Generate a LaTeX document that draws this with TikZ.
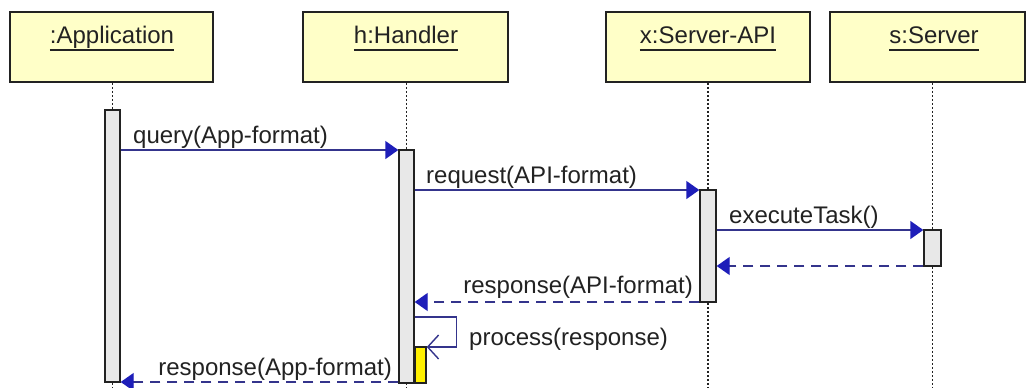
\documentclass[tikz,border=0pt]{standalone}
\usepackage{fontspec}
\setmainfont{Liberation Sans}
\usetikzlibrary{arrows.meta}
\pgfdeclarelayer{background}
\pgfsetlayers{background,main}

\definecolor{headfill}{RGB}{255,255,200}
\definecolor{barfill}{RGB}{232,232,232}
\definecolor{msgline}{RGB}{52,52,140}
\definecolor{tipblue}{RGB}{30,30,185}
\definecolor{inkgray}{RGB}{34,34,34}
\definecolor{workyellow}{RGB}{255,240,0}

% object name with a fixed-position underline
\newcommand{\uname}[1]{\setbox0\hbox{#1}\rlap{\raisebox{-8pt}{\rule{\wd0}{1.8pt}}}\box0}

\begin{document}
\begin{tikzpicture}[x=1pt,y=-1pt,
  every node/.style={font=\fontsize{24}{28}\selectfont, text=inkgray},
  head/.style={draw=inkgray, line width=1.6pt, fill=headfill, minimum height=70pt, inner sep=0pt},
  title/.style={anchor=base, inner sep=0pt},
  lifeline/.style={draw=inkgray, line width=1.3pt, dash pattern=on 2pt off 2pt},
  actbar/.style={draw=inkgray, line width=1.4pt, fill=barfill, inner sep=0pt, minimum width=15pt},
  call/.style={draw=msgline, line width=1.4pt, -{Triangle[length=13pt,width=18pt,color=tipblue]}},
  reply/.style={call, dash pattern=on 10pt off 7pt},
  selfcall/.style={draw=msgline, line width=1.4pt, -{Straight Barb[length=11pt,width=24pt]}},
  msg/.style={inner sep=0pt}
]
\useasboundingbox (0,0) rectangle (1026,388);
\begin{pgfonlayer}{background}
  \fill[white] (0,0) rectangle (1026,388);
\end{pgfonlayer}

% object heads
\node[head, minimum width=203pt] (app) at (111.5,47) {};
\node[head, minimum width=205pt] (hdl) at (405.5,47) {};
\node[head, minimum width=204pt] (api) at (708,47) {};
\node[head, minimum width=195pt] (srv) at (927.5,47) {};
\node[title] (appt) at (112,43) {\uname{:Application}};
\node[title] (hdlt) at (406,43) {\uname{h:Handler}};
\node[title] (apit) at (708,43) {\uname{x:Server-API}};
\node[title] (srvt) at (934,43) {\uname{s:Server}};

% activation bars
\node[actbar, minimum height=272pt] (appbar) at (112.5,246) {};
\node[actbar, minimum height=233pt] (hbar) at (406.5,266.5) {};
\node[actbar, minimum width=16pt, minimum height=112pt] (apibar) at (708,246) {};
\node[actbar, minimum width=17pt, minimum height=36pt] (sbar) at (932.5,248) {};
\node[actbar, fill=workyellow, minimum width=11pt, minimum height=36pt] (work) at (420.5,365) {};

% lifelines
\coordinate (bot) at (0,390);
\begin{pgfonlayer}{background}
  \draw[lifeline] (appbar.center |- app.south) -- (appbar.center |- bot);
  \draw[lifeline] (hbar.center |- hdl.south) -- (hbar.center |- bot);
  \draw[lifeline] (apibar.center |- api.south) -- (apibar.center |- bot);
  \draw[lifeline] (sbar.center |- srv.south) -- (sbar.center |- bot);
\end{pgfonlayer}

% message levels
\coordinate (m1) at (0,150);
\coordinate (m2) at (0,190);
\coordinate (m3) at (0,230);
\coordinate (r3) at (0,266);
\coordinate (r2) at (0,302);
\coordinate (s1) at (0,317);
\coordinate (s2) at (0,347);
\coordinate (r1) at (0,382);

% messages
\draw[call] (appbar.east |- m1) -- (hbar.west |- m1);
\draw[call] (hbar.east |- m2) -- (apibar.west |- m2);
\draw[call] (apibar.east |- m3) -- (sbar.west |- m3);
\draw[reply] (sbar.west |- r3) -- (apibar.east |- r3);
\draw[reply] (apibar.west |- r2) -- (hbar.east |- r2);
\draw[selfcall] (hbar.east |- s1) -- ++(42,0) |- (work.east |- s2);
\draw[reply] (hbar.west |- r1) -- (appbar.east |- r1);

% message labels
\node[msg, anchor=base west] (lq) at (133,143) {query(App-format)};
\node[msg, anchor=base west] (lr) at (426,183) {request(API-format)};
\node[msg, anchor=base west] (le) at (729,223) {executeTask()};
\node[msg, anchor=base east] (lra) at (693,293) {response(API-format)};
\node[msg, anchor=base west] (lp) at (469,345) {process(response)};
\node[msg, anchor=base east] (lrb) at (392,375) {response(App-format)};
\end{tikzpicture}
\end{document}
